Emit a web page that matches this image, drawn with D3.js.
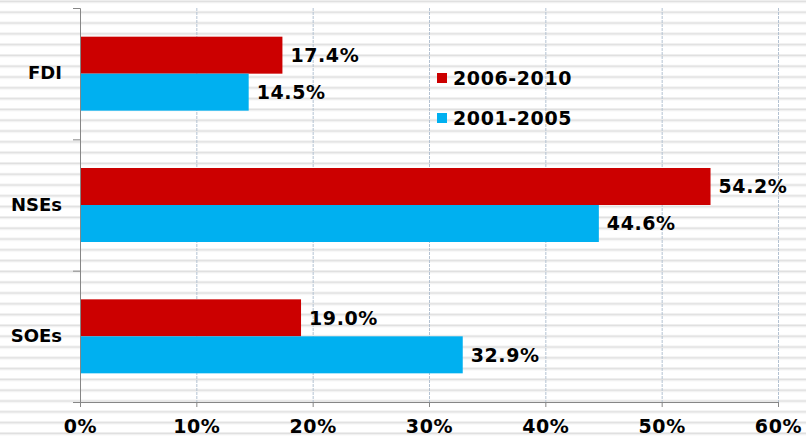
<!DOCTYPE html>
<html>
<head>
<meta charset="utf-8">
<script src="https://cdn.jsdelivr.net/npm/d3@7"></script>
<style>
  body { margin: 0; background: #fff; }
  text { font-family: "DejaVu Sans", Verdana, sans-serif; font-weight: bold; fill: #000; }
</style>
</head>
<body>
<svg id="chart" width="806" height="442"></svg>
<script>
// chart data
const categories = ["FDI", "NSEs", "SOEs"];
const seriesNames = ["2006-2010", "2001-2005"];
const values2006 = [17.4, 54.2, 19.0];
const values2001 = [14.5, 44.6, 32.9];
const xTicks = [0, 10, 20, 30, 40, 50, 60];
const colors = ["#CC0000", "#00B0F0"];

const svg = d3.select("#chart");
const W = 806, H = 442;
const margin = { top: 8, right: 28, bottom: 40, left: 80 };

// striped background
const defs = svg.append("defs");
const pat = defs.append("pattern")
    .attr("id", "stripes")
    .attr("patternUnits", "userSpaceOnUse")
    .attr("width", 10)
    .attr("height", 10.8);
pat.append("rect").attr("width", 10).attr("height", 10.8).attr("fill", "#ffffff");
pat.append("rect").attr("y", 0).attr("width", 10).attr("height", 1).attr("fill", "#eeeeee");
pat.append("rect").attr("y", 1).attr("width", 10).attr("height", 1.4).attr("fill", "#e0e0e0");
pat.append("rect").attr("y", 2.4).attr("width", 10).attr("height", 0.8).attr("fill", "#f2f2f2");

svg.append("rect").attr("width", W).attr("height", H).attr("fill", "url(#stripes)");

const x = d3.scaleLinear()
    .domain([0, 60])
    .range([margin.left, 778]);

const y = d3.scaleBand()
    .domain(categories)
    .range([margin.top, 402])
    .paddingInner(0)
    .paddingOuter(0);

const inner = d3.scaleBand()
    .domain(seriesNames)
    .range([0, y.bandwidth()])
    .paddingInner(0)
    .paddingOuter(0.775);

// gridlines
svg.append("g")
    .selectAll("line")
    .data(xTicks.slice(1))
    .enter()
    .append("line")
    .attr("x1", d => x(d) + 0.5)
    .attr("x2", d => x(d) + 0.5)
    .attr("y1", margin.top)
    .attr("y2", 402)
    .attr("stroke", "#b4c2d2")
    .attr("stroke-width", 1)
    .attr("stroke-dasharray", "3,1");

const data = categories.map((c, i) => ({
    cat: c,
    vals: [
        { s: seriesNames[0], v: values2006[i], color: colors[0] },
        { s: seriesNames[1], v: values2001[i], color: colors[1] }
    ]
}));

const groups = svg.append("g")
    .selectAll("g")
    .data(data)
    .enter()
    .append("g")
    .attr("transform", d => `translate(0,${y(d.cat)})`);

groups.selectAll("rect")
    .data(d => d.vals)
    .enter()
    .append("rect")
    .attr("x", x(0))
    .attr("y", d => inner(d.s))
    .attr("width", d => x(d.v) - x(0))
    .attr("height", inner.bandwidth())
    .attr("fill", d => d.color);

groups.selectAll("text")
    .data(d => d.vals)
    .enter()
    .append("text")
    .attr("x", d => x(d.v) + 8)
    .attr("y", d => inner(d.s) + inner.bandwidth() / 2)
    .attr("dy", "0.36em")
    .style("font-size", "19px")
    .style("letter-spacing", "0.6px")
    .text(d => d.v.toFixed(1) + "%");

// axes
const xAxis = d3.axisBottom(x)
    .tickValues(xTicks)
    .tickSize(5)
    .tickFormat(d => d + "%");
const gx = svg.append("g")
    .attr("transform", "translate(0,402)")
    .call(xAxis);
gx.select(".domain").attr("stroke", "#868686").attr("d", `M${x(0) - 7},0.5H${x(60) + 0.5}`);
gx.selectAll(".tick line").attr("stroke", "#868686");
gx.selectAll(".tick text")
    .attr("y", 18)
    .attr("dy", "0.71em")
    .style("font-size", "19px")
    .style("font-family", "'DejaVu Sans', Verdana, sans-serif")
    .style("letter-spacing", "0.6px");

const yAxis = d3.axisLeft(y).tickSize(0).tickPadding(18);
const gy = svg.append("g")
    .attr("transform", `translate(${x(0)},0)`)
    .call(yAxis);
gy.select(".domain").attr("stroke", "#868686").attr("d", `M-7,${margin.top + 0.5}H0.5V402`);
gy.selectAll(".tick text")
    .style("font-size", "18px")
    .style("font-family", "'DejaVu Sans', Verdana, sans-serif");

// category separator ticks
gy.append("g")
    .selectAll("line")
    .data(categories.slice(1))
    .enter()
    .append("line")
    .attr("x1", -7)
    .attr("x2", 0)
    .attr("y1", d => y(d) + 0.5)
    .attr("y2", d => y(d) + 0.5)
    .attr("stroke", "#868686");

// legend
const legend = svg.append("g")
    .selectAll("g")
    .data(seriesNames)
    .enter()
    .append("g")
    .attr("transform", (d, i) => `translate(437,${73 + i * 40})`);
legend.append("rect")
    .attr("width", 10)
    .attr("height", 10)
    .attr("fill", (d, i) => colors[i]);
legend.append("text")
    .attr("x", 16)
    .attr("y", 5)
    .attr("dy", "0.36em")
    .style("font-size", "19px")
    .style("letter-spacing", "0.6px")
    .text(d => d);
</script>
</body>
</html>
